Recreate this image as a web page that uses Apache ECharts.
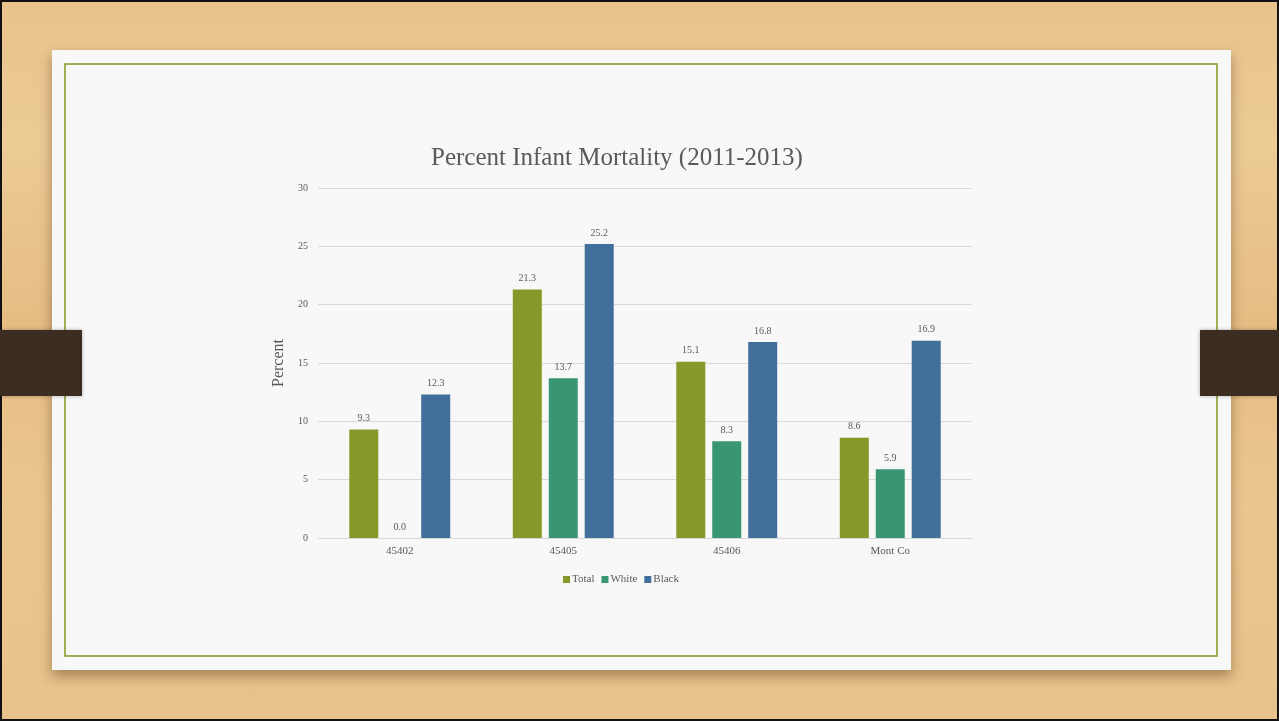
<!DOCTYPE html>
<html>
<head>
<meta charset="utf-8">
<script src="https://cdn.jsdelivr.net/npm/echarts@6/dist/echarts.min.js"></script>
<style>
html,body{margin:0;padding:0;width:1279px;height:721px;overflow:hidden;}
body{background:linear-gradient(180deg,#e9c38c 0%,#eccb95 20%,#e6bc84 45%,#ebc790 70%,#e8c28b 100%);}
#frame{position:absolute;left:0;top:0;width:1275px;height:717px;border:2px solid #111;}
#chart{position:absolute;left:0;top:0;width:1279px;height:721px;}
</style>
</head>
<body>
<div id="frame"></div>
<div id="chart"></div>
<script>
var categories = ['45402', '45405', '45406', 'Mont Co'];
var totalValues = [9.3, 21.3, 15.1, 8.6];
var whiteValues = [0.0, 13.7, 8.3, 5.9];
var blackValues = [12.3, 25.2, 16.8, 16.9];
var yTicks = [0, 5, 10, 15, 20, 25, 30];

var font = '"Liberation Serif", "DejaVu Serif", serif';
var chart = echarts.init(document.getElementById('chart'), null, {renderer: 'canvas'});
var labelStyle = {show: true, position: 'top', color: '#595959', fontSize: 10, fontFamily: font, distance: 6,
  formatter: function (p) { return p.value.toFixed(1); }};
chart.setOption({
  backgroundColor: 'transparent',
  animation: false,
  graphic: [
    {type: 'rect', z: -10, shape: {x: 52, y: 50, width: 1179, height: 620},
      style: {fill: '#f8f8f8', shadowBlur: 12, shadowOffsetY: 6, shadowColor: 'rgba(80,50,20,0.45)'}},
    {type: 'rect', z: -9, shape: {x: 65, y: 64, width: 1152, height: 592},
      style: {fill: 'none', stroke: '#7d9a1e', lineWidth: 1.5}},
    {type: 'rect', z: 10, shape: {x: 0, y: 330, width: 82, height: 66},
      style: {fill: '#3b2d22', shadowBlur: 4, shadowColor: 'rgba(0,0,0,0.3)'}},
    {type: 'rect', z: 10, shape: {x: 1200, y: 330, width: 79, height: 66},
      style: {fill: '#3b2d22', shadowBlur: 4, shadowColor: 'rgba(0,0,0,0.3)'}}
  ],
  title: {
    text: 'Percent Infant Mortality (2011-2013)',
    left: 426, top: 141,
    textStyle: {fontFamily: font, fontSize: 25, fontWeight: 'normal', color: '#595959'}
  },
  legend: {
    data: ['Total', 'White', 'Black'],
    left: 558, top: 569,
    itemWidth: 7, itemHeight: 7, itemGap: 7,
    icon: 'rect',
    textStyle: {fontFamily: font, fontSize: 11, color: '#595959', padding: [0, 0, 0, -3]}
  },
  grid: {left: 318, right: 307, top: 188, bottom: 183, containLabel: false},
  xAxis: {
    type: 'category', data: categories,
    axisLine: {lineStyle: {color: '#d9d9d9'}},
    axisTick: {show: false},
    axisLabel: {fontFamily: font, fontSize: 11, color: '#595959', margin: 8}
  },
  yAxis: {
    type: 'value', min: yTicks[0], max: yTicks[yTicks.length - 1], interval: 5,
    name: 'Percent', nameLocation: 'middle', nameGap: 26, nameRotate: 90,
    nameTextStyle: {fontFamily: font, fontSize: 16, color: '#595959'},
    axisLine: {show: false}, axisTick: {show: false},
    axisLabel: {fontFamily: font, fontSize: 10, color: '#595959', margin: 10},
    splitLine: {lineStyle: {color: '#d9d9d9'}}
  },
  series: [
    {name: 'Total', type: 'bar', data: totalValues, itemStyle: {color: '#84992a'},
      barWidth: 29, barGap: '24%', label: labelStyle},
    {name: 'White', type: 'bar', data: whiteValues, itemStyle: {color: '#3a9672'},
      barWidth: 29, barGap: '24%', label: labelStyle},
    {name: 'Black', type: 'bar', data: blackValues, itemStyle: {color: '#426e9c'},
      barWidth: 29, barGap: '24%', label: labelStyle}
  ]
});
</script>
</body>
</html>
